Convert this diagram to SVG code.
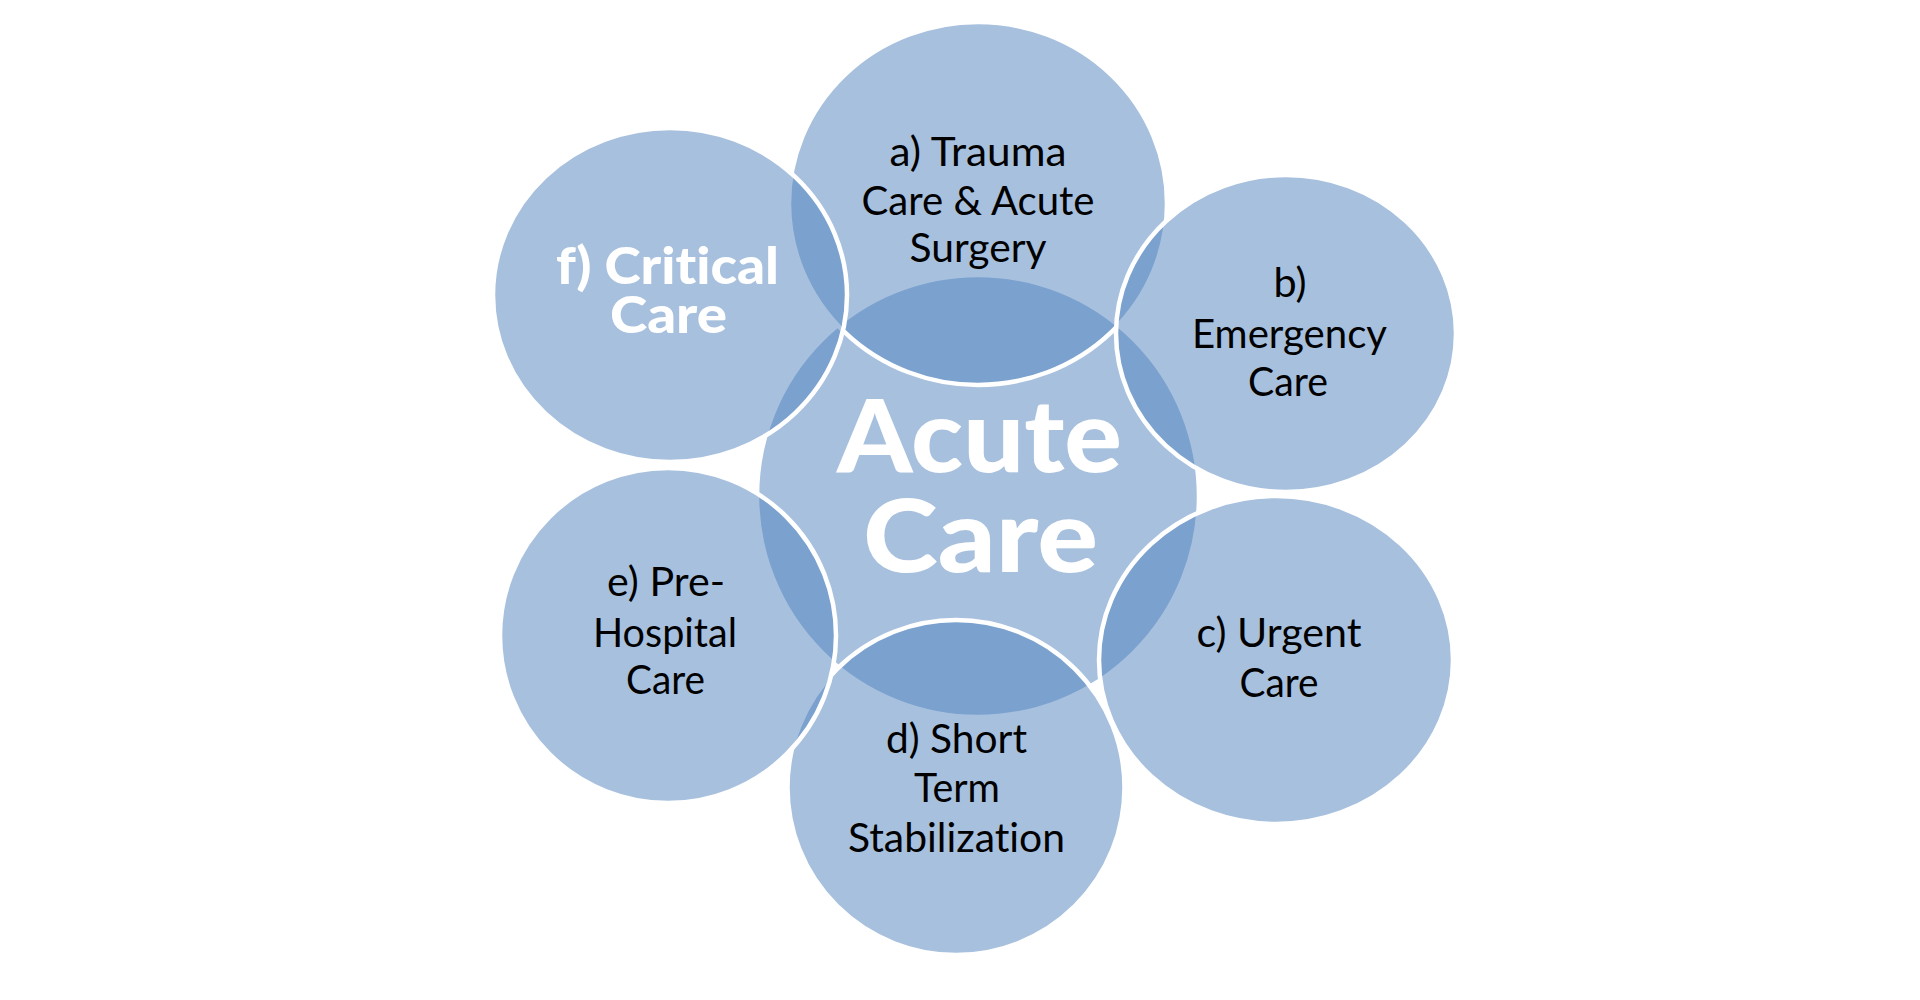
<svg xmlns="http://www.w3.org/2000/svg" width="1920" height="1000" viewBox="0 0 1920 1000">
<style>
.bub{fill:#4F81BD;fill-opacity:0.5;stroke:#FFFFFF;stroke-width:4.5}
.lbl{font-family:Lato,"Open Sans","Liberation Sans",sans-serif;font-size:40px;fill:#000000;text-anchor:middle;font-variant-ligatures:none;font-feature-settings:"liga" 0}
.hero{font-family:Lato,"Open Sans","Liberation Sans",sans-serif;font-weight:900;fill:#FFFFFF;text-anchor:middle;font-variant-ligatures:none;font-feature-settings:"liga" 0}
</style>
<rect x="0" y="0" width="1920" height="1000" fill="#FFFFFF"/>
<g id="connectors"></g>
<g id="node-center">
<ellipse class="bub" cx="978" cy="496" rx="221" ry="221"/>
<text class="hero" font-size="101" x="979.5" y="472" textLength="285" lengthAdjust="spacingAndGlyphs">Acute</text>
<text class="hero" font-size="101" x="980.5" y="572" textLength="235" lengthAdjust="spacingAndGlyphs">Care</text>
</g>
<g id="node-a">
<ellipse class="bub" cx="978" cy="203.5" rx="189" ry="181.5"/>
<text class="lbl" x="978" y="166" textLength="177" lengthAdjust="spacingAndGlyphs">a) Trauma</text>
<text class="lbl" x="978" y="215" textLength="233" lengthAdjust="spacingAndGlyphs">Care &amp; Acute</text>
<text class="lbl" x="978" y="262" textLength="137" lengthAdjust="spacingAndGlyphs">Surgery</text>
</g>
<g id="node-b">
<ellipse class="bub" cx="1286" cy="333.5" rx="170" ry="158.5"/>
<text class="lbl" x="1290" y="297" textLength="33" lengthAdjust="spacingAndGlyphs">b)</text>
<text class="lbl" x="1289.5" y="348" textLength="195" lengthAdjust="spacingAndGlyphs">Emergency</text>
<text class="lbl" x="1288" y="396" textLength="80" lengthAdjust="spacingAndGlyphs">Care</text>
</g>
<g id="node-c">
<ellipse class="bub" cx="1276" cy="660" rx="177" ry="164"/>
<text class="lbl" x="1279" y="647" textLength="165" lengthAdjust="spacingAndGlyphs">c) Urgent</text>
<text class="lbl" x="1279" y="697" textLength="79" lengthAdjust="spacingAndGlyphs">Care</text>
</g>
<g id="node-d">
<ellipse class="bub" cx="956" cy="787.5" rx="168.5" ry="167.5"/>
<text class="lbl" x="956.5" y="753" textLength="141" lengthAdjust="spacingAndGlyphs">d) Short</text>
<text class="lbl" x="957" y="802" textLength="86" lengthAdjust="spacingAndGlyphs">Term</text>
<text class="lbl" x="956.5" y="852" textLength="217" lengthAdjust="spacingAndGlyphs">Stabilization</text>
</g>
<g id="node-e">
<ellipse class="bub" cx="668" cy="635.5" rx="168" ry="167.5"/>
<text class="lbl" x="666" y="596" textLength="118" lengthAdjust="spacingAndGlyphs">e) Pre-</text>
<text class="lbl" x="665" y="647" textLength="144" lengthAdjust="spacingAndGlyphs">Hospital</text>
<text class="lbl" x="665.5" y="694" textLength="79" lengthAdjust="spacingAndGlyphs">Care</text>
</g>
<g id="node-f">
<ellipse class="bub" cx="670" cy="295" rx="177" ry="167"/>
<text class="hero" font-size="52" x="667.5" y="284" textLength="223" lengthAdjust="spacingAndGlyphs">f) Critical</text>
<text class="hero" font-size="52" x="668.5" y="333" textLength="117" lengthAdjust="spacingAndGlyphs">Care</text>
</g>
</svg>
